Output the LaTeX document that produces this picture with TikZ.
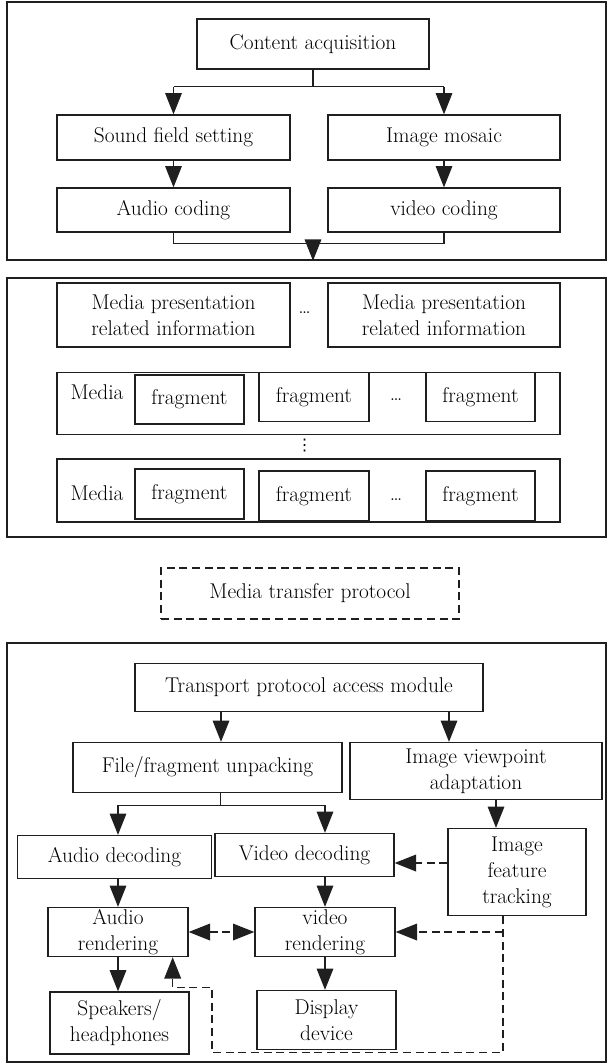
\documentclass[tikz,border=0pt]{standalone}
\usepackage{fontspec}
\setmainfont{Latin Modern Roman}
\newfontfamily\dotfont{DejaVu Sans}
\usepackage{tikz}
\usetikzlibrary{arrows.meta,positioning}
\colorlet{ink}{black!88}

\begin{document}
\begin{tikzpicture}[
      x=0.75pt,y=-0.75pt,
      font=\fontsize{16}{19.5}\selectfont,
      >={Triangle[length=16pt,width=12.5pt]},
      frame/.style={draw=ink,line width=1.1pt,inner sep=0},
      box/.style={draw=ink,line width=1pt,align=center,inner sep=1pt},
      sz/.style 2 args={minimum width=#1*0.75pt,minimum height=#2*0.75pt},
      link/.style={draw=ink,line width=0.9pt},
      dsh/.style={dash pattern=on 6pt off 3.5pt},
    ]
    \useasboundingbox (0,0) rectangle (608,1064);
    % production
    \node (frameA) [frame,sz={599}{258}] at (306.5,131) {};
    \node (ca) [box,sz={232}{50}] at (313,44) {Content acquisition};
    \node (sfs) [box,sz={233}{45}] at (173.5,137.5) {Sound field setting};
    \node (im) [box,sz={232}{45}] at (444,137.5) {Image mosaic};
    \node (ac) [box,sz={233}{44}] at (173.5,210) {Audio coding};
    \node (vc) [box,sz={232}{44}] at (444,210) {video coding};
    %
    \draw [link] (ca.south) -- ++(0,17) coordinate (splitA);
    \draw [link] (splitA -| sfs.north) -- (splitA -| im.north);
    \draw [link,->] (splitA -| sfs.north) -- (sfs.north);
    \draw [link,->] (splitA -| im.north) -- (im.north);
    \draw [link,->] (sfs.south) -- (ac.north);
    \draw [link,->] (im.south) -- (vc.north);
    \draw [link] (ac.south) -- ++(0,11) coordinate (mergeA) -- (mergeA -| vc.south) -- (vc.south);
    \draw [link,->] (mergeA -| ca.south) -- (ca.south |- frameA.south);
    %
    % packaging
    \node (frameB) [frame,sz={599}{259}] at (306.5,407.5) {};
    \node (mp1) [box,sz={233}{64}] at (173.5,315) {Media presentation\\related information};
    \node (mp2) [box,sz={232}{64}] at (444,315) {Media presentation\\related information};
    \node (mpdots) at (304.5,313) {\dots};
    %
    \node (media1) [box,sz={503}{62}] at (308.5,403.5) {};
    \node (lab1) at (97,392) {Media};
    \node (f11) [box,sz={109}{49}] at (189.5,399.5) {fragment};
    \node (f12) [box,sz={110}{49}] at (314,397) {fragment};
    \node (fdots1) at (396,400) {\dots};
    \node (f13) [box,sz={109}{49}] at (480.5,397) {fragment};
    %
    \node (vdots) [inner sep=0,font=\dotfont\fontsize{12}{12}\selectfont] at (304.5,446) {⋮};
    %
    \node (media2) [box,sz={503}{63}] at (308.5,490.5) {};
    \node (lab2) at (97,493) {Media};
    \node (f21) [box,sz={109}{50}] at (189.5,494) {fragment};
    \node (f22) [box,sz={110}{50}] at (314,496) {fragment};
    \node (fdots2) at (396,500) {\dots};
    \node (f23) [box,sz={109}{50}] at (480.5,496) {fragment};
    %
    % transfer
    \node (mtp) [box,dsh,sz={298}{51}] at (310,593.5) {Media transfer protocol};
    %
    % playback
    \node (frameC) [frame,sz={599}{419}] at (306.5,852.5) {};
    \node (tpam) [box,sz={348}{48}] at (309,687.5) {Transport protocol access module};
    \node (ffu) [box,sz={269}{50}] at (207.5,767.5) {File/fragment unpacking};
    \node (iva) [box,sz={252}{57}] at (476,771) {Image viewpoint\\adaptation};
    \node (ad) [box,sz={194}{43}] at (114.5,857) {Audio decoding};
    \node (vd) [box,sz={179}{43}] at (304.5,855) {Video decoding};
    \node (ift) [box,sz={138}{87}] at (517,872) {Image\\feature\\tracking};
    \node (ar) [box,sz={140}{49}] at (118,932) {Audio\\rendering};
    \node (vr) [box,sz={140}{49}] at (325,932) {video\\rendering};
    \node (sh) [box,sz={139}{62}] at (119.5,1023) {Speakers/\\headphones};
    \node (dd) [box,sz={139}{59}] at (326.5,1020) {Display\\device};
    %
    \coordinate (tpL) at ([xshift=-66pt]tpam.south);
    \coordinate (tpR) at ([xshift=105pt]tpam.south);
    \draw [link,->] (tpL) -- (tpL |- ffu.north);
    \draw [link,->] (tpR) -- (tpR |- iva.north);
    \coordinate (ffuS) at ([xshift=10pt]ffu.south);
    \draw [link] (ffuS) -- ++(0,12) coordinate (splitC);
    \draw [link] (splitC -| ar.north) -- (splitC -| vr.north);
    \draw [link,->] (splitC -| ar.north) -- (ar.north |- ad.north);
    \draw [link,->] (splitC -| vr.north) -- (vr.north |- vd.north);
    \coordinate (ivaS) at ([xshift=15pt]iva.south);
    \draw [link,->] (ivaS) -- (ivaS |- ift.north);
    \coordinate (vdE) at ([yshift=-6pt]vd.east);
    \draw [link,dsh,->] (vdE -| ift.west) -- (vdE);
    %
    \draw [link,->] (ad.south -| ar.north) -- (ar.north);
    \draw [link,->] (vd.south -| vr.north) -- (vr.north);
    \draw [link,dsh,<->] (ar.east) -- (vr.west);
    \draw [link,->] (ar.south) -- (sh.north -| ar.south);
    \draw [link,->] (vr.south) -- (dd.north -| vr.south);
    %
    \coordinate (iftS) at ([xshift=-10.5pt]ift.south);
    \coordinate (arS) at ([xshift=41pt]ar.south);
    \draw [link,dsh,->] (iftS |- vr.east) -- (vr.east);
    \draw [link,dsh,->] (iftS) -- ++(0,136) -- ++(-291,0) -- ++(0,-65) -| (arS);
  \end{tikzpicture}
\end{document}
